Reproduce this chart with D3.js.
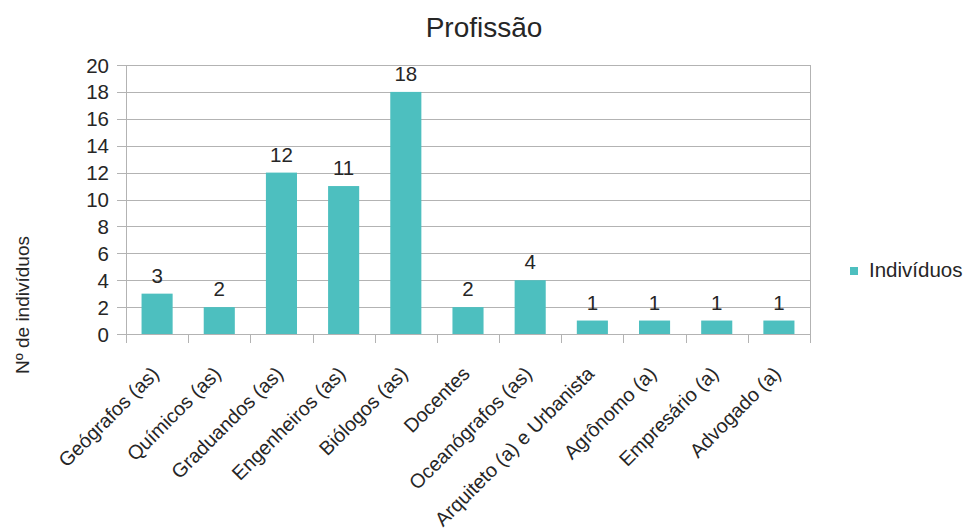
<!DOCTYPE html>
<html>
<head>
<meta charset="utf-8">
<script src="https://cdn.jsdelivr.net/npm/d3@7"></script>
<style>
  html, body { margin: 0; padding: 0; background: #fff; }
  text { font-family: "Liberation Sans", Arial, sans-serif; fill: #262626; }
</style>
</head>
<body>
<svg id="chart" width="968" height="531"></svg>
<script>
const categories = [
  "Geógrafos (as)", "Químicos (as)", "Graduandos (as)", "Engenheiros (as)",
  "Biólogos (as)", "Docentes", "Oceanógrafos (as)", "Arquiteto (a) e Urbanista",
  "Agrônomo (a)", "Empresário (a)", "Advogado (a)"
];
const individuos = [3, 2, 12, 11, 18, 2, 4, 1, 1, 1, 1];
const yTicks = [0, 2, 4, 6, 8, 10, 12, 14, 16, 18, 20];

const title = "Profissão";
const yTitle = "Nº de indivíduos";
const seriesName = "Indivíduos";

const svg = d3.select("#chart");
const plot = { left: 126, right: 810, top: 65, bottom: 334 };
const barColor = "#4dbfbf";
const gridColor = "#b3b3b3";

const x = d3.scaleBand().domain(categories).range([plot.left, plot.right]).padding(0);
const y = d3.scaleLinear().domain([0, 20]).range([plot.bottom, plot.top]);

// horizontal grid lines with outward tick stubs
svg.append("g").selectAll("line").data(yTicks).join("line")
  .attr("x1", plot.left - 9).attr("x2", plot.right)
  .attr("y1", d => Math.round(y(d)) + 0.5).attr("y2", d => Math.round(y(d)) + 0.5)
  .attr("stroke", gridColor).attr("stroke-width", 1);

// left axis line and right border
[plot.left, plot.right].forEach(px => {
  svg.append("line")
    .attr("x1", px + 0.5).attr("x2", px + 0.5)
    .attr("y1", plot.top).attr("y2", plot.bottom + 9)
    .attr("stroke", gridColor);
});

// category boundary ticks below the axis
svg.append("g").selectAll("line").data(categories.slice(1)).join("line")
  .attr("x1", d => Math.round(x(d)) + 0.5).attr("x2", d => Math.round(x(d)) + 0.5)
  .attr("y1", plot.bottom).attr("y2", plot.bottom + 9)
  .attr("stroke", gridColor);

// y tick labels
svg.append("g").selectAll("text").data(yTicks).join("text")
  .attr("x", 109).attr("y", d => y(d) + 7.5)
  .attr("text-anchor", "end").attr("font-size", 20.5)
  .text(d => d);

// bars
const bw = x.bandwidth() * 0.5;
svg.append("g").selectAll("rect").data(individuos).join("rect")
  .attr("x", (d, i) => x(categories[i]) + x.bandwidth() / 2 - bw / 2)
  .attr("y", d => y(d))
  .attr("width", bw)
  .attr("height", d => y(0) - y(d))
  .attr("fill", barColor);

// value labels
svg.append("g").selectAll("text").data(individuos).join("text")
  .attr("x", (d, i) => x(categories[i]) + x.bandwidth() / 2)
  .attr("y", d => y(d) - 11)
  .attr("text-anchor", "middle").attr("font-size", 20.5)
  .text(d => d);

// rotated category labels
svg.append("g").selectAll("text").data(categories).join("text")
  .attr("text-anchor", "end").attr("font-size", 19.8)
  .attr("transform", d => `translate(${x(d) + x.bandwidth() / 2 + 3},${plot.bottom + 41}) rotate(-45)`)
  .text(d => d);

// title
svg.append("text")
  .attr("x", 484).attr("y", 37)
  .attr("text-anchor", "middle").attr("font-size", 28)
  .text(title);

// y axis title
svg.append("text")
  .attr("transform", `translate(29,305) rotate(-90)`)
  .attr("text-anchor", "middle").attr("font-size", 19)
  .text(yTitle);

// legend
svg.append("rect")
  .attr("x", 850).attr("y", 267).attr("width", 8).attr("height", 8)
  .attr("fill", barColor);
svg.append("text")
  .attr("x", 869).attr("y", 277).attr("font-size", 20.5)
  .text(seriesName);
</script>
</body>
</html>
